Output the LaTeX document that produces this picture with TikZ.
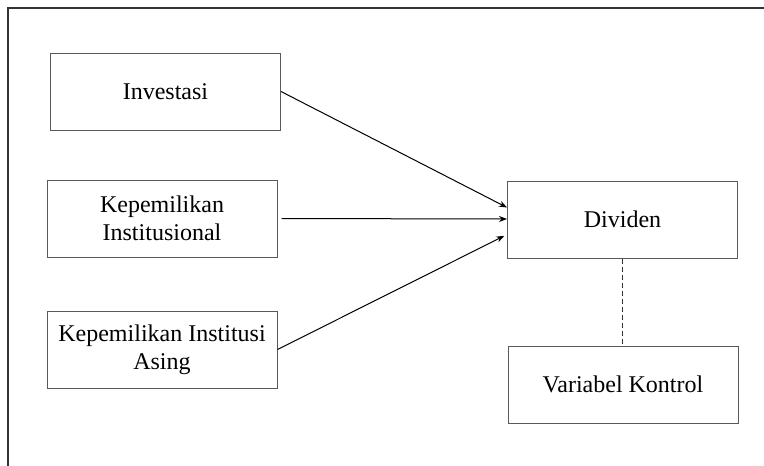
\documentclass[tikz,border=0pt]{standalone}
\usepackage{fontspec}
\setmainfont{Liberation Serif}
\usepackage{tikz}
\usetikzlibrary{arrows.meta,positioning}

\tikzset{
  varbox/.style={draw=black!65, line width=1pt, minimum width=230pt, minimum height=77pt,
    align=center, inner sep=0pt, font=\fontsize{24}{28}\selectfont},
  link/.style={line width=1pt, -{Stealth[length=8pt,width=6pt]}}
}

\begin{document}
\begin{tikzpicture}[x=1pt,y=-1pt]

\useasboundingbox (0,0) rectangle (764,466);

% frame
\draw[line width=2pt, black!80] (8,466) -- (8,8) -- (764,8);

\node[varbox] (inv) at (165.5,91.5) {Investasi};
\node[varbox] (inst) at (162,218.5) {Kepemilikan\\Institusional};
\node[varbox] (asing) at (162,349.5) {Kepemilikan Institusi\\Asing};

\node[varbox] (div) at (622.5,219.5) {Dividen};
\node[varbox] (ctrl) at (623,384.5) {Variabel Kontrol};

  \draw[link] (inv.east) -- ([yshift=12pt]div.west);
  \draw[link, shorten <=4pt] (inst.east) -- ([yshift=0.5pt]div.west);
  \draw[link, shorten >=3pt] (asing.east) -- ([yshift=-15pt]div.west);

\draw[line width=1pt, black!80, dash pattern=on 5pt off 3pt] (div.south) -- (div.south |- ctrl.north);

\end{tikzpicture}
\end{document}
